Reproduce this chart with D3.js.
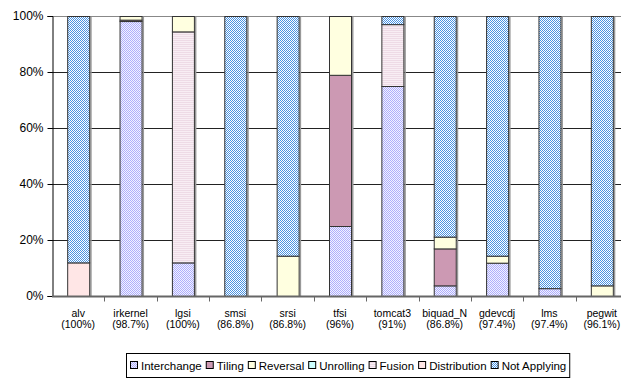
<!DOCTYPE html>
<html>
<head>
<meta charset="utf-8">
<script src="https://cdn.jsdelivr.net/npm/d3@7"></script>
<style>
  html, body { margin: 0; padding: 0; background: #fff; }
  svg { display: block; font-family: "Liberation Sans", Arial, sans-serif; }
</style>
</head>
<body>
<svg id="chart" width="621" height="379"></svg>
<script>
// Benchmarks and the share of loops each transformation applies to
const benchmarks = ["alv", "irkernel", "lgsi", "smsi", "srsi", "tfsi", "tomcat3", "biquad_N", "gdevcdj", "lms", "pegwit"];
const coverage = ["(100%)", "(98.7%)", "(100%)", "(86.8%)", "(86.8%)", "(96%)", "(91%)", "(86.8%)", "(97.4%)", "(97.4%)", "(96.1%)"];
const seriesNames = ["Interchange", "Tiling", "Reversal", "Unrolling", "Fusion", "Distribution", "Not Applying"];
// bottom-to-top order of the segments inside each bar
const stackOrder = ["Interchange", "Tiling", "Fusion", "Distribution", "Reversal", "Unrolling", "Not Applying"];

const interchange  = [0,   98.2, 12,   0,   0,    25,   75,   3.8,  11.9, 2.8, 0];
const tiling       = [0,   0.5,  0,    0,   0,    54,   0,    13.2, 0,    0,   0];
const reversal     = [0,   1.3,  5.5,  0,   14.4, 21,   0,    4.2,  2.5,  0,   3.8];
const unrolling    = [0,   0,    0,    0,   0,    0,    0,    0,    0,    0,   0];
const fusion       = [0,   0,    82.5, 0,   0,    0,    22.1, 0,    0,    0,   0];
const distribution = [12,  0,    0,    0,   0,    0,    0,    0,    0,    0,   0];
const notApplying  = [88,  0,    0,    100, 85.6, 0,    2.9,  78.8, 85.6, 97.2, 96.2];

const yTicks = [0, 20, 40, 60, 80, 100];

const seriesValues = [interchange, tiling, reversal, unrolling, fusion, distribution, notApplying];
const rows = benchmarks.map((b, i) => {
  const r = { name: b };
  seriesNames.forEach((s, k) => { r[s] = seriesValues[k][i]; });
  return r;
});

const svg = d3.select("#chart");
const margin = { left: 52, top: 16, right: -7, bottom: 83 };
const W = 621, H = 379;
const x = d3.scaleBand().domain(benchmarks).range([margin.left, W - margin.right]).paddingInner(0).paddingOuter(0);
const y = d3.scaleLinear().domain([0, 100]).range([H - margin.bottom, margin.top]);

// Fill patterns
const defs = svg.append("defs");
function checker(id, fg, bg) {
  const p = defs.append("pattern").attr("id", id).attr("width", 2).attr("height", 2)
    .attr("patternUnits", "userSpaceOnUse");
  p.append("rect").attr("width", 2).attr("height", 2).attr("fill", bg);
  p.append("rect").attr("width", 1).attr("height", 1).attr("fill", fg);
  p.append("rect").attr("x", 1).attr("y", 1).attr("width", 1).attr("height", 1).attr("fill", fg);
}
checker("pInter", "#aeaefc", "#f2f2ff");
checker("pNot", "#4a93e2", "#ffffff");
const pf = defs.append("pattern").attr("id", "pFus").attr("width", 2).attr("height", 2)
  .attr("patternUnits", "userSpaceOnUse");
pf.append("rect").attr("width", 2).attr("height", 2).attr("fill", "#f8eef4");
pf.append("rect").attr("width", 2).attr("height", 1).attr("fill", "#eedbe6");

const fills = {
  "Interchange": "url(#pInter)",
  "Tiling": "#cc99b3",
  "Reversal": "#ffffe0",
  "Unrolling": "#ccffff",
  "Fusion": "url(#pFus)",
  "Distribution": "#ffe6e6",
  "Not Applying": "url(#pNot)"
};

// Gridlines
svg.append("g").selectAll("line").data(yTicks.filter(d => d > 0)).join("line")
  .attr("x1", margin.left).attr("x2", W)
  .attr("y1", d => Math.round(y(d)) + 0.5).attr("y2", d => Math.round(y(d)) + 0.5)
  .attr("stroke", d => d === 100 ? "#888" : "#222").attr("stroke-width", 1);

// Y axis
const yAxis = svg.append("g").attr("transform", `translate(${margin.left + 0.5},0)`)
  .call(d3.axisLeft(y).tickValues(yTicks).tickFormat(d => d + "%").tickSize(5).tickPadding(4));
yAxis.select(".domain").attr("stroke", "#000");
yAxis.selectAll(".tick line").attr("stroke", "#000");
yAxis.selectAll("text").attr("font-size", 12).attr("fill", "#000")
  .attr("font-family", "'Liberation Sans', Arial, sans-serif");

// Stacked bars, each with a soft grey shade on its right edge
const stack = d3.stack().keys(stackOrder);
const layers = stack(rows);
const bw = 22;
const barX = name => x(name) + x.bandwidth() / 2 - bw / 2;
svg.append("g").selectAll("rect").data(rows).join("rect")
  .attr("x", d => barX(d.name) + bw + 1).attr("y", y(100) + 1)
  .attr("width", 1.5).attr("height", y(0) - y(100) - 1)
  .attr("fill", "#999");
svg.append("g").selectAll("g").data(layers).join("g")
  .attr("fill", d => fills[d.key])
  .selectAll("rect").data(d => d.filter(s => s[1] - s[0] > 0)).join("rect")
  .attr("x", d => barX(d.data.name) + 0.5)
  .attr("y", d => y(d[1]) + 0.5)
  .attr("width", bw)
  .attr("height", d => Math.max(0, y(d[0]) - y(d[1])))
  .attr("stroke", "#333").attr("stroke-width", 1);

// X axis baseline and category ticks
const base = Math.round(y(0)) + 0.5;
svg.append("line").attr("x1", margin.left).attr("x2", W).attr("y1", base).attr("y2", base)
  .attr("stroke", "#666").attr("stroke-width", 2);
svg.append("g").selectAll("line").data(benchmarks.slice(1)).join("line")
  .attr("x1", d => Math.round(x(d)) + 0.5).attr("x2", d => Math.round(x(d)) + 0.5)
  .attr("y1", base).attr("y2", base + 5)
  .attr("stroke", "#666").attr("stroke-width", 1);

// Category labels
const lab = svg.append("g").selectAll("text").data(benchmarks).join("text")
  .attr("x", d => x(d) + x.bandwidth() / 2)
  .attr("text-anchor", "middle").attr("font-size", 10.5).attr("fill", "#000");
lab.append("tspan").attr("x", d => x(d) + x.bandwidth() / 2).attr("y", 317).text(d => d);
lab.append("tspan").attr("x", d => x(d) + x.bandwidth() / 2).attr("y", 328)
  .text((d, i) => coverage[i]);

// Legend
const leg = svg.append("g");
const legBox = leg.append("rect").attr("fill", "#fff").attr("stroke", "#000").attr("stroke-width", 1);
let lx = 130;
const ly = 366;
seriesNames.forEach(name => {
  leg.append("rect").attr("x", lx + 0.5).attr("y", ly - 4.5).attr("width", 7).attr("height", 7)
    .attr("fill", fills[name]).attr("stroke", "#000").attr("stroke-width", 1);
  const t = leg.append("text").attr("x", lx + 11).attr("y", ly + 4)
    .attr("font-size", 11.5).attr("fill", "#000").text(name);
  lx += 11 + t.node().getComputedTextLength() + 4;
});
legBox.attr("x", 126.5).attr("y", 353.5).attr("width", lx - 126 - 1).attr("height", 24);
</script>
</body>
</html>
